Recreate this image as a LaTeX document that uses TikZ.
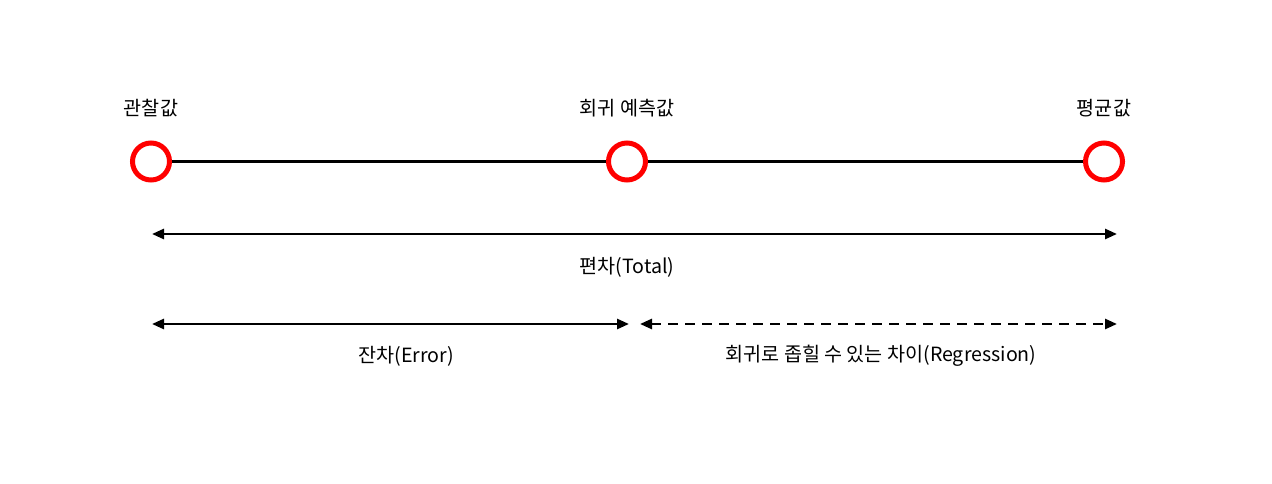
\documentclass[tikz,border=0pt]{standalone}
\usepackage{fontspec}
\setmainfont{Noto Sans CJK KR}
\usetikzlibrary{arrows.meta}
\begin{document}
\begin{tikzpicture}[x=1pt,y=-1pt,
  pt/.style={circle,draw=red,line width=5pt,minimum size=37pt,inner sep=0pt,fill=white},
  lbl/.style={font=\fontsize{19.6}{22}\selectfont,inner sep=0pt,anchor=center},
  dim/.style={line width=2.6pt,{Triangle[length=12pt,width=10pt]}-{Triangle[length=12pt,width=10pt]}},
  conn/.style={line width=3pt}]
\useasboundingbox[fill=white] (0,0) rectangle (1272,484);
\node[pt] (p1) at (151,161.5) {};
\node[pt] (p2) at (627,161.5) {};
\node[pt] (p3) at (1104,161.5) {};
\draw[conn] (p1) -- (p2);
\draw[conn] (p2) -- (p3);
\node[lbl] (l1) at (151,108) {관찰값};
\node[lbl] (l2) at (627,108) {회귀 예측값};
\node[lbl] (l3) at (1104,108) {평균값};
\coordinate (ta) at (152,234);
\coordinate (tb) at (1117,234);
\draw[dim] (ta) -- (tb);
\node[lbl] (tl) at (627,267) {편차(Total)};
\coordinate (ea) at (152,324);
\coordinate (eb) at (629,324);
\draw[dim] (ea) -- (eb);
\node[lbl] (el) at (406,356) {잔차(Error)};
\coordinate (ra) at (640,324);
\coordinate (rb) at (1117,324);
\draw[dim,dash pattern=on 10pt off 7pt] (ra) -- (rb);
\node[lbl] (rl) at (881,356) {회귀로 좁힐 수 있는 차이(Regression)};
\end{tikzpicture}
\end{document}
